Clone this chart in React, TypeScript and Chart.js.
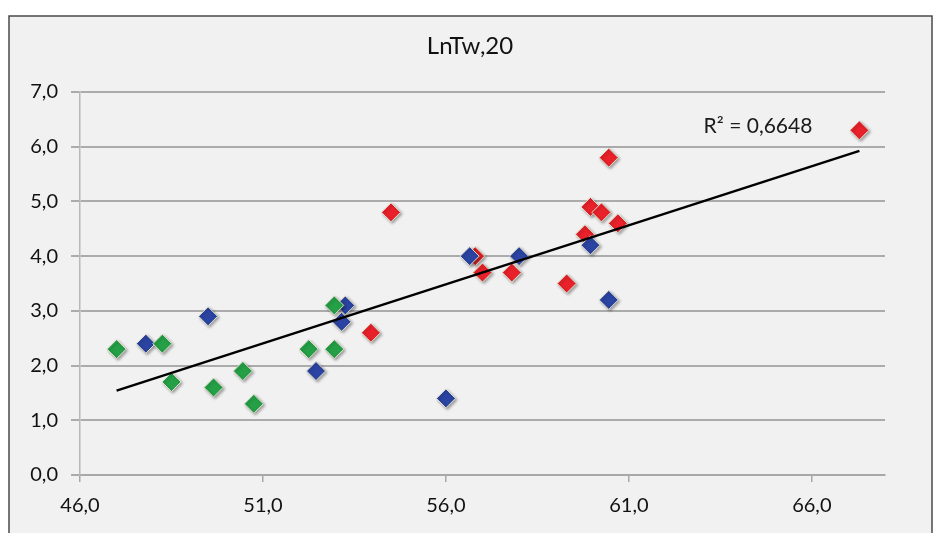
import React, { useEffect, useRef } from "react";
import { Chart, registerables } from "chart.js";

Chart.register(...registerables);

const chartTitle = "LnTw,20";
const r2Label = "R² = 0,6648";

const redX = [67.3, 54.5, 60.45, 59.95, 60.25, 60.7, 59.8, 56.8, 57.0, 57.8, 59.3, 53.95];
const redY = [6.3, 4.8, 5.8, 4.9, 4.8, 4.6, 4.4, 4.0, 3.7, 3.7, 3.5, 2.6];
const blueX = [47.8, 49.5, 53.25, 53.15, 52.45, 56.0, 56.65, 58.0, 59.95, 60.45];
const blueY = [2.4, 2.9, 3.1, 2.8, 1.9, 1.4, 4.0, 4.0, 4.2, 3.2];
const greenX = [47.0, 48.25, 48.5, 49.65, 50.45, 50.75, 52.25, 52.95, 52.95];
const greenY = [2.3, 2.4, 1.7, 1.6, 1.9, 1.3, 2.3, 3.1, 2.3];

const xTicks = [46, 51, 56, 61, 66];
const yTicks = [0, 1, 2, 3, 4, 5, 6, 7];

const toPoints = (xs: number[], ys: number[]) => xs.map((x, i) => ({ x, y: ys[i] }));

function regression() {
  const xs = [...redX, ...blueX, ...greenX];
  const ys = [...redY, ...blueY, ...greenY];
  const n = xs.length;
  const mx = xs.reduce((a, b) => a + b, 0) / n;
  const my = ys.reduce((a, b) => a + b, 0) / n;
  let sxy = 0, sxx = 0;
  for (let i = 0; i < n; i++) {
    sxy += (xs[i] - mx) * (ys[i] - my);
    sxx += (xs[i] - mx) ** 2;
  }
  const slope = sxy / sxx;
  const icpt = my - slope * mx;
  const x0 = Math.min(...xs);
  const x1 = Math.max(...xs);
  return [
    { x: x0, y: icpt + slope * x0 },
    { x: x1, y: icpt + slope * x1 },
  ];
}

const FONT = "Lato, 'Open Sans', sans-serif";

export default function App() {
  const ref = useRef<HTMLCanvasElement | null>(null);
  useEffect(() => {
    if (!ref.current) return;
    const framePlugin = {
      id: "frame",
      beforeDraw(chart: any) {
        const ctx = chart.ctx;
        ctx.save();
        ctx.fillStyle = "#ffffff";
        ctx.fillRect(0, 0, chart.width, chart.height);
        ctx.fillStyle = "#f1f1f1";
        ctx.fillRect(9, 16, 923, 530);
        ctx.strokeStyle = "#4a4a4a";
        ctx.lineWidth = 1.5;
        ctx.strokeRect(9, 16, 923, 530);
        ctx.restore();
      },
      afterDraw(chart: any) {
        const ctx = chart.ctx;
        ctx.save();
        ctx.fillStyle = "#111111";
        ctx.textAlign = "center";
        ctx.textBaseline = "middle";
        ctx.font = `24px ${FONT}`;
        ctx.fillText(chartTitle, 470, 46);
        ctx.font = `21px ${FONT}`;
        ctx.fillStyle = "#1a1a1a";
        ctx.fillText(r2Label, 758, 126);
        ctx.restore();
      },
      beforeDatasetDraw(chart: any, args: any) {
        const ds = chart.data.datasets[args.index];
        if (ds.type === "line") return;
        const ctx = chart.ctx;
        ctx.shadowColor = "rgba(0,0,0,0.35)";
        ctx.shadowBlur = 3;
        ctx.shadowOffsetX = 1.5;
        ctx.shadowOffsetY = 1.5;
      },
      afterDatasetDraw(chart: any) {
        const ctx = chart.ctx;
        ctx.shadowColor = "rgba(0,0,0,0)";
        ctx.shadowBlur = 0;
        ctx.shadowOffsetX = 0;
        ctx.shadowOffsetY = 0;
      },
    };

    const pointStyle = (color: string) => ({
      backgroundColor: color,
      borderColor: "rgba(225,225,205,1)",
      borderWidth: 1,
      pointStyle: "rectRot",
      pointRadius: 9.5,
      pointHoverRadius: 9.5,
    });

    const chart = new Chart(ref.current, {
      type: "scatter",
      data: {
        datasets: [
          {
            type: "line",
            label: "trend",
            data: regression(),
            borderColor: "#000000",
            borderWidth: 2.5,
            pointRadius: 0,
            fill: false,
            order: 0,
          } as any,
          { label: "green", data: toPoints(greenX, greenY), ...pointStyle("#25a047"), order: 1 } as any,
          { label: "blue", data: toPoints(blueX, blueY), ...pointStyle("#2b44a2"), order: 2 } as any,
          { label: "red", data: toPoints(redX, redY), ...pointStyle("#e8212a"), order: 3 } as any,
        ],
      },
      options: {
        animation: false,
        responsive: false,
        maintainAspectRatio: false,
        layout: { padding: { left: 0, right: 53, top: 92, bottom: 0 } },
        plugins: {
          legend: { display: false },
          title: { display: false },
          tooltip: { enabled: false },
        },
        scales: {
          x: {
            type: "linear",
            min: 46,
            max: 68,
            afterBuildTicks: (scale: any) => {
              scale.ticks = xTicks.map((v) => ({ value: v }));
            },
            afterFit: (scale: any) => {
              scale.height = 58;
            },
            grid: {
              drawOnChartArea: false,
              drawTicks: true,
              tickLength: 7,
              color: "#a8a8a8",
              lineWidth: 1.5,
            },
            border: { display: true, color: "#a8a8a8", width: 2 },
            ticks: {
              padding: 12,
              color: "#111111",
              font: { family: FONT, size: 20 },
              maxRotation: 0,
              callback: (v: any) => Number(v).toFixed(1).replace(".", ","),
            },
          },
          y: {
            type: "linear",
            min: 0,
            max: 7,
            afterBuildTicks: (scale: any) => {
              scale.ticks = yTicks.map((v) => ({ value: v }));
            },
            afterFit: (scale: any) => {
              scale.width = 80;
            },
            grid: {
              drawOnChartArea: true,
              drawTicks: true,
              tickLength: 9,
              color: "#ababab",
              lineWidth: 2,
            },
            border: { display: true, color: "#b8b8b8", width: 1.5 },
            ticks: {
              padding: 13,
              color: "#111111",
              font: { family: FONT, size: 20 },
              callback: (v: any) => Number(v).toFixed(1).replace(".", ","),
            },
          },
        },
      },
      plugins: [framePlugin],
    } as any);
    return () => chart.destroy();
  }, []);

  return (
    <div style={{ position: "absolute", left: 0, top: 0, width: 938, height: 533 }}>
      <canvas ref={ref} width={938} height={533} style={{ display: "block", width: 938, height: 533 }} />
    </div>
  );
}
